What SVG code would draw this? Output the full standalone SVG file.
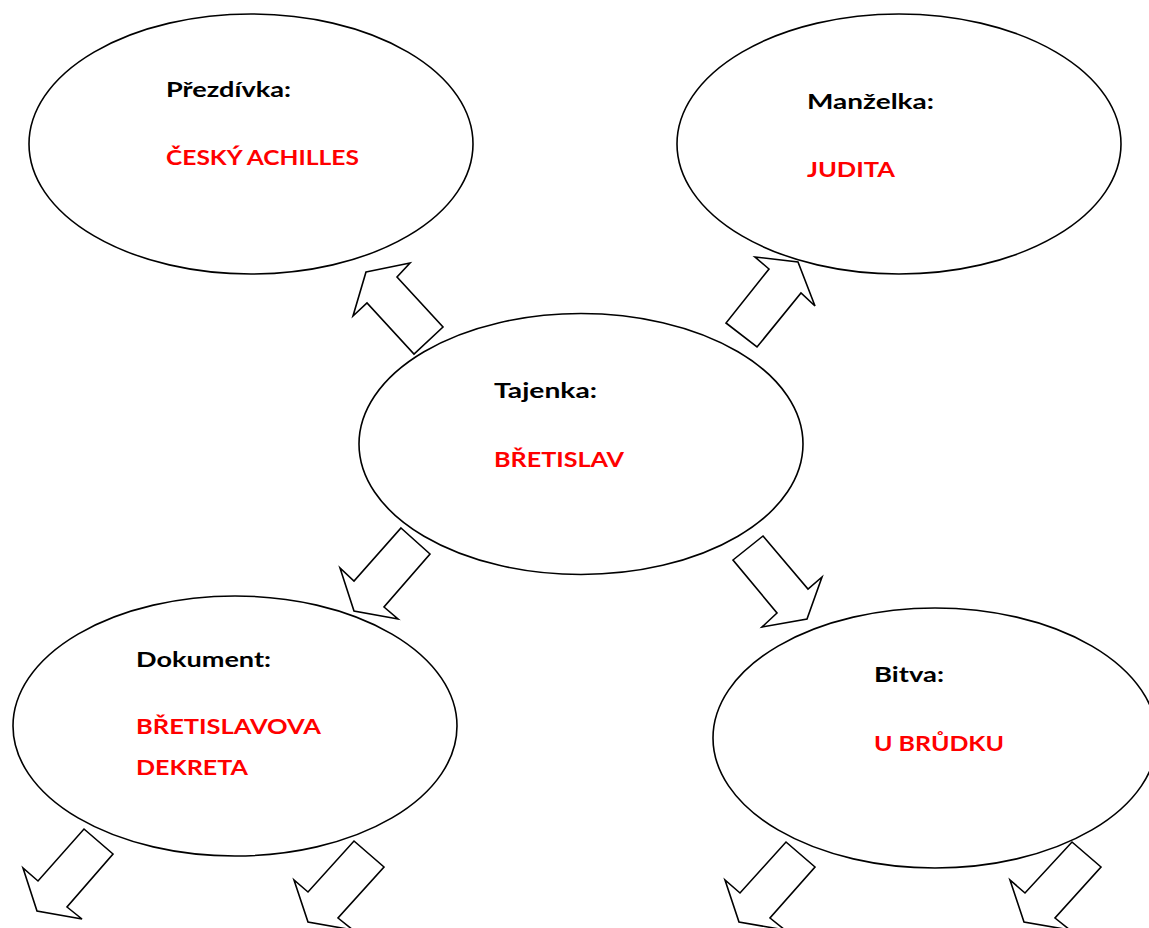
<svg xmlns="http://www.w3.org/2000/svg" width="1149" height="928" viewBox="0 0 1149 928">
<style>
.node ellipse{fill:#fff;stroke:#000;stroke-width:1.6}
.lbl{font-family:Lato,"Liberation Sans",sans-serif;font-weight:bold;font-size:20px;fill:#000}
.ans{font-family:Lato,"Liberation Sans",sans-serif;font-weight:bold;font-size:20px;fill:#ff0000}
.arrows polygon{fill:#fff;stroke:#000;stroke-width:1.6;stroke-linejoin:miter}
</style>
<rect width="1149" height="928" fill="#fff"/>
<g id="n-prezdivka" class="node">
<ellipse cx="251" cy="144" rx="222" ry="130"/>
<text class="lbl" x="166" y="97" textLength="125" lengthAdjust="spacingAndGlyphs">Přezdívka:</text>
<text class="ans" x="166" y="165" textLength="193" lengthAdjust="spacingAndGlyphs">ČESKÝ ACHILLES</text>
</g>
<g id="n-manzelka" class="node">
<ellipse cx="899" cy="144" rx="222" ry="130"/>
<text class="lbl" x="807" y="109" textLength="127" lengthAdjust="spacingAndGlyphs">Manželka:</text>
<text class="ans" x="807" y="177" textLength="88" lengthAdjust="spacingAndGlyphs">JUDITA</text>
</g>
<g id="n-dokument" class="node">
<ellipse cx="235" cy="726" rx="222" ry="130"/>
<text class="lbl" x="136" y="667" textLength="135" lengthAdjust="spacingAndGlyphs">Dokument:</text>
<text class="ans" x="136" y="734" textLength="185" lengthAdjust="spacingAndGlyphs">BŘETISLAVOVA</text>
<text class="ans" x="136" y="775" textLength="112" lengthAdjust="spacingAndGlyphs">DEKRETA</text>
</g>
<g id="n-bitva" class="node">
<ellipse cx="935" cy="738" rx="222" ry="130"/>
<text class="lbl" x="874" y="682" textLength="70" lengthAdjust="spacingAndGlyphs">Bitva:</text>
<text class="ans" x="874" y="751" textLength="130" lengthAdjust="spacingAndGlyphs">U BRŮDKU</text>
</g>
<g id="connectors" class="arrows">
<polygon points="366,272 410,263 397,277 443,327 414,354 367,303 353,316"/>
<polygon points="755,257 798,262 815,306 801,293 757,347 726,323 769,269"/>
<polygon points="401,528 430,554 384,607 398,619 354,611 340,568 354,581"/>
<polygon points="763,536 808,589 822,577 807,619 762,627 777,613 733,560"/>
<polygon points="84,829 113,854 67,907 82,919 37,911 23,868 38,881"/>
<polygon points="354,841 384,867 338,918 353,930 308,922 294,880 308,892"/>
<polygon points="786,842 815,867 770,918 785,930 739,922 725,880 740,893"/>
<polygon points="1072,842 1101,867 1055,918 1070,930 1024,922 1010,880 1025,893"/>
</g>
<g id="n-tajenka" class="node">
<ellipse cx="581" cy="444" rx="222" ry="130.5" style="fill:none"/>
<text class="lbl" x="494" y="398" textLength="103" lengthAdjust="spacingAndGlyphs">Tajenka:</text>
<text class="ans" x="494" y="467" textLength="130" lengthAdjust="spacingAndGlyphs">BŘETISLAV</text>
</g>
</svg>
